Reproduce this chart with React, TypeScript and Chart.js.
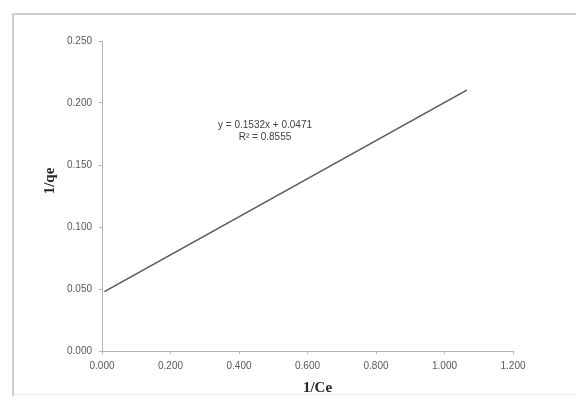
import React, { useEffect, useRef } from "react";
import { Chart, registerables } from "chart.js";

Chart.register(...registerables);

// Trendline endpoints (1/Ce, 1/qe)
const trendX: number[] = [0.007, 1.065];
const trendY: number[] = [0.0478, 0.2103];

const xTicks: number[] = [0, 0.2, 0.4, 0.6, 0.8, 1.0, 1.2];
const yTicks: number[] = [0, 0.05, 0.1, 0.15, 0.2, 0.25];

const xTitle = "1/Ce";
const yTitle = "1/qe";
const equationLines: string[] = ["y = 0.1532x + 0.0471", "R\u00B2 = 0.8555"];
const equationAnchor = { x: 0.476, y: [0.182, 0.172] };

const frameAndTextPlugin = {
  id: "frameAndText",
  beforeDraw(chart: any) {
    const ctx = chart.ctx;
    ctx.save();
    ctx.fillStyle = "#ffffff";
    ctx.fillRect(0, 0, chart.width, chart.height);
    ctx.strokeStyle = "#cfcfcf";
    ctx.lineWidth = 2;
    ctx.beginPath();
    ctx.moveTo(13, 396);
    ctx.lineTo(13, 14);
    ctx.lineTo(576, 14);
    ctx.stroke();
    ctx.strokeStyle = "#ececec";
    ctx.lineWidth = 1;
    ctx.beginPath();
    ctx.moveTo(14, 394.5);
    ctx.lineTo(576, 394.5);
    ctx.stroke();
    ctx.restore();
  },
  afterDraw(chart: any) {
    const ctx = chart.ctx;
    const xs = chart.scales.x;
    const ys = chart.scales.y;
    const area = chart.chartArea;
    ctx.save();
    // equation
    ctx.fillStyle = "#404040";
    ctx.font = "10px 'Liberation Sans', Arial, sans-serif";
    ctx.textAlign = "center";
    ctx.textBaseline = "middle";
    equationLines.forEach((t, i) => {
      ctx.fillText(t, xs.getPixelForValue(equationAnchor.x), ys.getPixelForValue(equationAnchor.y[i]));
    });
    // axis titles
    ctx.fillStyle = "#262626";
    ctx.font = "bold 15px 'Liberation Serif', 'Times New Roman', serif";
    ctx.fillText(xTitle, (area.left + area.right) / 2 + 10, 388);
    ctx.translate(50, (area.top + area.bottom) / 2 - 15);
    ctx.rotate(-Math.PI / 2);
    ctx.fillText(yTitle, 0, 0);
    ctx.restore();
  },
};

export default function App() {
  const ref = useRef<HTMLCanvasElement | null>(null);

  useEffect(() => {
    if (!ref.current) return;
    const chart = new Chart(ref.current, {
      type: "scatter",
      data: {
        datasets: [
          {
            label: "trend",
            data: trendX.map((x, i) => ({ x, y: trendY[i] })),
            showLine: true,
            borderColor: "#555555",
            borderWidth: 1.4,
            pointRadius: 0,
            fill: false,
          },
        ],
      },
      options: {
        responsive: false,
        animation: false,
        layout: { padding: { top: 41, right: 63, left: 0, bottom: 0 } },
        plugins: {
          legend: { display: false },
          tooltip: { enabled: false },
          title: { display: false },
        },
        scales: {
          x: {
            type: "linear",
            min: 0,
            max: 1.2,
            afterFit: (s: any) => {
              s.height = 52;
            },
            afterBuildTicks: (s: any) => {
              s.ticks = xTicks.map((v) => ({ value: v }));
            },
            grid: { drawOnChartArea: false, color: "#b5b5b5", tickLength: 3 },
            border: { color: "#b5b5b5", width: 1 },
            ticks: {
              color: "#595959",
              font: { size: 10, family: "'Liberation Sans', Arial, sans-serif" },
              padding: 6,
              maxRotation: 0,
              callback: (v: any) => Number(v).toFixed(3),
            },
          },
          y: {
            type: "linear",
            min: 0,
            max: 0.25,
            afterFit: (s: any) => {
              s.width = 102;
            },
            afterBuildTicks: (s: any) => {
              s.ticks = yTicks.map((v) => ({ value: v }));
            },
            grid: { drawOnChartArea: false, color: "#b5b5b5", tickLength: 3 },
            border: { color: "#b5b5b5", width: 1 },
            ticks: {
              color: "#595959",
              font: { size: 10, family: "'Liberation Sans', Arial, sans-serif" },
              padding: 7,
              callback: (v: any) => Number(v).toFixed(3),
            },
          },
        },
      },
      plugins: [frameAndTextPlugin],
    });
    return () => chart.destroy();
  }, []);

  return (
    <div style={{ position: "fixed", left: 0, top: 0, width: 576, height: 403, background: "#fff" }}>
      <canvas ref={ref} width={576} height={403} style={{ width: 576, height: 403, display: "block" }} />
    </div>
  );
}
